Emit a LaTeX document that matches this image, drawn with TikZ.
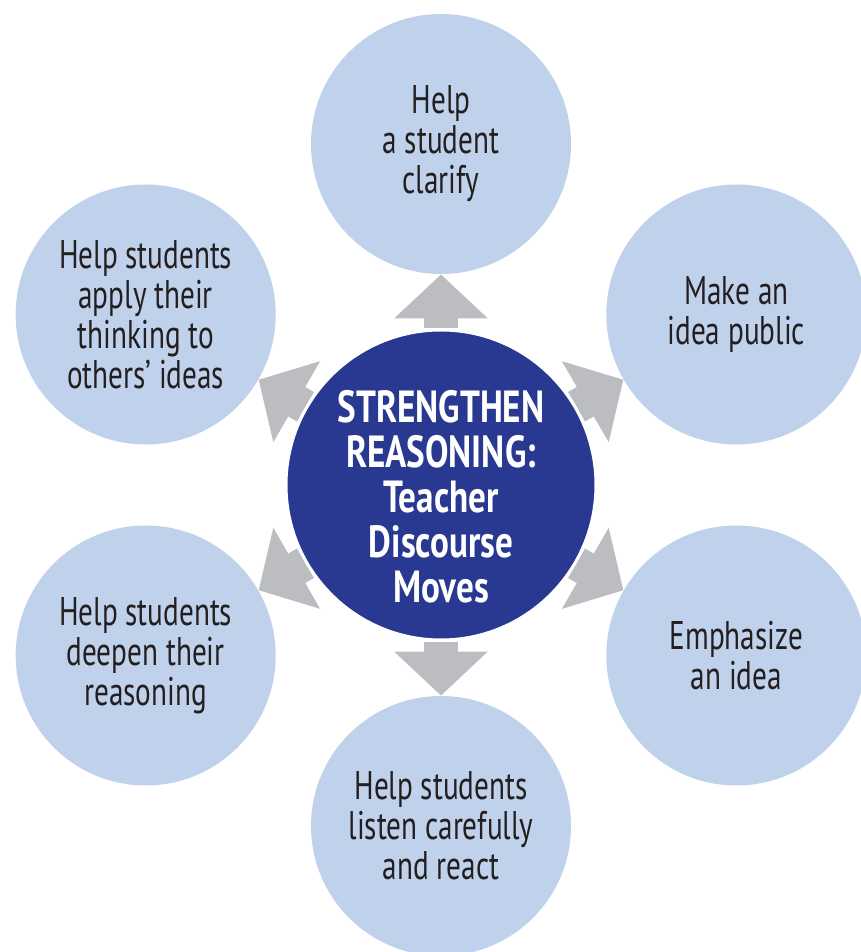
\documentclass[tikz,border=0pt]{standalone}
\usepackage{fontspec}
\setmainfont{PT Sans}[FakeStretch=0.73]
\newfontfamily\hubfont{PT Sans}[FakeStretch=0.78]
\usepackage{tikz}
\usetikzlibrary{arrows.meta,backgrounds}
\definecolor{moveblue}{RGB}{192,210,235}
\definecolor{hubblue}{RGB}{41,57,145}
\definecolor{pushgrey}{RGB}{188,189,192}
\definecolor{inkblack}{RGB}{35,31,32}
\tikzset{
  move/.style={circle,fill=moveblue,minimum size=130pt,inner sep=0pt,
    align=center,text=inkblack,font=\fontsize{20}{20}\selectfont},
  hub/.style={circle,fill=hubblue,draw=white,line width=1.5pt,
    minimum size=155pt,inner sep=0pt},
  push/.style={pushgrey,line width=17pt,-{Triangle[width=45.5pt,length=22pt]}}
}

\begin{document}
\begin{tikzpicture}[x=0.5pt,y=0.5pt]
  \useasboundingbox (-441,-467) rectangle (420,485);
  \coordinate (o1) at (0,0);
  \node[hub] (ctr) at (o1) {};
  \node[text=white,align=center,font=\hubfont\bfseries\fontsize{22.5}{22.5}\selectfont]
    (ctrtext) at (0,-12) {STRENGTHEN\\REASONING:\\Teacher\\Discourse\\Moves};
  \node[move] (clarify) at (90:341) {Help\\a student\\clarify};
  \node[move] (public) at (30:341) {Make an\\idea public};
  \node[move] (emph) at (-30:341) {Emphasize\\an idea};
  \node[move] (listen) at (-90:341) {Help students\\listen carefully\\and react};
  \node[move] (deepen) at (-150:341) {Help students\\deepen their\\reasoning};
  \node[move] (apply) at (150:341) {Help students\\apply their\\thinking to\\others' ideas};
  \begin{scope}[on background layer]
    \draw[push] (ctr) -- (clarify);
    \draw[push] (ctr) -- (public);
    \draw[push] (ctr) -- (emph);
    \draw[push] (ctr) -- (listen);
    \draw[push] (ctr) -- (deepen);
    \draw[push] (ctr) -- (apply);
  \end{scope}
\end{tikzpicture}
\end{document}
